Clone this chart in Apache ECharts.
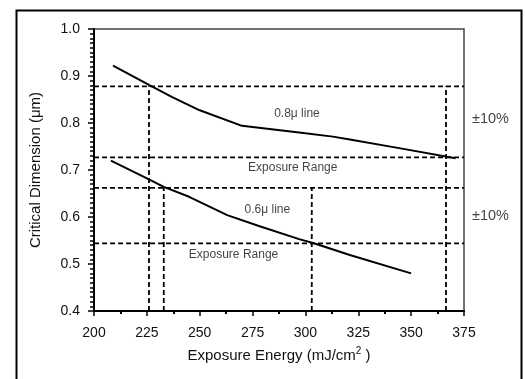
<!DOCTYPE html>
<html>
<head>
<meta charset="utf-8">
<script src="https://cdn.jsdelivr.net/npm/echarts@6/dist/echarts.min.js"></script>
<style>
html,body{margin:0;padding:0;background:#fff;}
#c{width:525px;height:379px;}
</style>
</head>
<body>
<div id="c"></div>
<script>
// Data
var line08 = [[209,0.922],[226,0.881],[237,0.855],[250,0.827],[270,0.794],[297,0.780],[313,0.771],[321,0.765],[345,0.746],[367,0.728],[371,0.725]];
var line06 = [[208,0.720],[226,0.680],[233,0.664],[245,0.643],[263,0.604],[278,0.581],[297,0.553],[304,0.544],[321,0.519],[350,0.480]];
var hLevels = [0.878, 0.727, 0.662, 0.544];
var vLines = [[226, 0.878], [233, 0.662], [303, 0.662], [366.5, 0.878]];
var xTicks = [200, 225, 250, 275, 300, 325, 350, 375];
var yTicks = [0.4, 0.5, 0.6, 0.7, 0.8, 0.9, 1.0];
var notes = [
  {text: '0.8\u03bc line', pos: [296, 0.819]},
  {text: 'Exposure Range', pos: [294, 0.705]},
  {text: '0.6\u03bc line', pos: [282, 0.616]},
  {text: 'Exposure Range', pos: [266, 0.519]},
  {text: '\u00b110%', pos: [387.5, 0.809]},
  {text: '\u00b110%', pos: [387.5, 0.602]}
];

var xMin = xTicks[0], xMax = xTicks[xTicks.length - 1];
var yMin = yTicks[0], yMax = yTicks[yTicks.length - 1];

var chart = echarts.init(document.getElementById('c'));
var FONT = '"Liberation Sans", Arial, sans-serif';
var dashStyle = {color: '#000', width: 1.8, type: [5, 3]};

var series = [];
hLevels.forEach(function (v) {
  series.push({type: 'line', data: [[xMin, v], [xMax, v]], symbol: 'none', silent: true,
    lineStyle: dashStyle, z: 3});
});
vLines.forEach(function (p) {
  series.push({type: 'line', data: [[p[0], yMin], [p[0], p[1]]], symbol: 'none', silent: true,
    lineStyle: dashStyle, z: 3});
});
series.push({type: 'line', data: line08, symbol: 'none', lineStyle: {color: '#000', width: 2}, z: 4});
series.push({type: 'line', data: line06, symbol: 'none', lineStyle: {color: '#000', width: 2}, z: 4});
series.push({
  type: 'scatter', clip: false, symbolSize: 0, silent: true, z: 5,
  data: notes.map(function (n) {
    var big = n.text.indexOf('%') >= 0;
    return {value: n.pos, label: {show: true, position: 'inside', formatter: n.text,
      fontFamily: FONT, fontSize: big ? 14.5 : 12, color: '#111'}};
  })
});

chart.setOption({
  animation: false,
  backgroundColor: '#fff',
  grid: {left: 94, right: 61, top: 29, bottom: 68, show: true, borderColor: '#444', borderWidth: 1.5},
  xAxis: {
    type: 'value', min: xMin, max: xMax, interval: 25,
    name: 'Exposure Energy (mJ/cm{sup|2} )', nameLocation: 'middle', nameGap: 35,
    nameTextStyle: {fontFamily: FONT, fontSize: 15, color: '#111',
      rich: {sup: {fontSize: 10, verticalAlign: 'top', padding: [0, 0, 9, 0], fontFamily: FONT, color: '#111'}}},
    axisLine: {lineStyle: {color: '#000', width: 2}},
    axisTick: {length: 5, lineStyle: {color: '#000', width: 1.5}},
    minorTick: {show: true, splitNumber: 2, length: 3, lineStyle: {color: '#000', width: 2}},
    axisLabel: {fontFamily: FONT, fontSize: 14, color: '#111', margin: 15},
    splitLine: {show: false}
  },
  yAxis: {
    type: 'value', min: yMin, max: yMax, interval: 0.1,
    name: 'Critical Dimension (\u03bcm)', nameLocation: 'middle', nameGap: 51, nameRotate: 90,
    nameTextStyle: {fontFamily: FONT, fontSize: 15, color: '#111'},
    axisLine: {lineStyle: {color: '#000', width: 2}},
    axisTick: {length: 6, lineStyle: {color: '#000', width: 1.5}},
    minorTick: {show: true, splitNumber: 10, length: 4, lineStyle: {color: '#000', width: 1.5}},
    axisLabel: {fontFamily: FONT, fontSize: 14, color: '#111', margin: 14,
      formatter: function (v) { return v.toFixed(1); }},
    splitLine: {show: false}
  },
  graphic: [{type: 'rect', left: 14, top: 8, shape: {width: 505, height: 400},
    style: {fill: null, stroke: '#000', lineWidth: 2}, silent: true, z: 0}],
  series: series
});
</script>
</body>
</html>
